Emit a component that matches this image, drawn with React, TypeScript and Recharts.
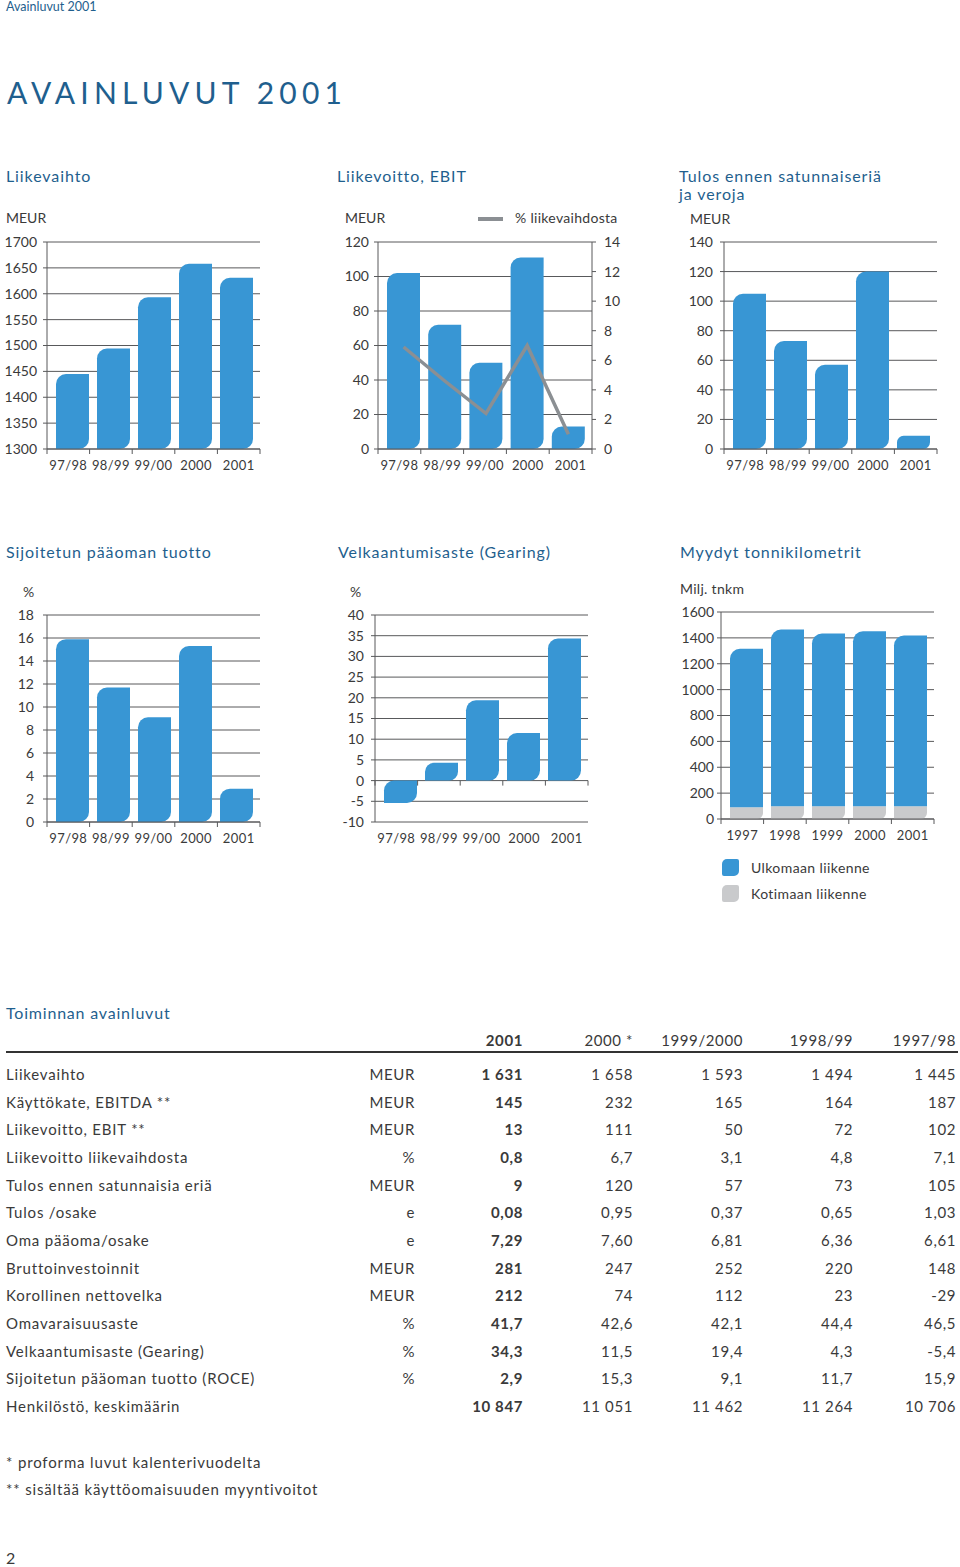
import React from 'react';
import { BarChart, Bar, XAxis, YAxis, CartesianGrid, Line, ComposedChart } from 'recharts';

// ---------- data ----------
const periods = ['97/98', '98/99', '99/00', '2000', '2001'];
const years = ['1997', '1998', '1999', '2000', '2001'];

const liikevaihto = [1445, 1494, 1593, 1658, 1631];
const liikevaihtoTicks = [1300, 1350, 1400, 1450, 1500, 1550, 1600, 1650, 1700];

const ebit = [102, 72, 50, 111, 13];
const ebitPct = [6.9, 4.6, 2.4, 7.0, 1.0];
const ebitTicks = [0, 20, 40, 60, 80, 100, 120];
const ebitPctTicks = [0, 2, 4, 6, 8, 10, 12, 14];

const tulos = [105, 73, 57, 120, 9];
const tulosTicks = [0, 20, 40, 60, 80, 100, 120, 140];

const roce = [15.9, 11.7, 9.1, 15.3, 2.9];
const roceTicks = [0, 2, 4, 6, 8, 10, 12, 14, 16, 18];

const gearing = [-5.4, 4.3, 19.4, 11.5, 34.3];
const gearingTicks = [-10, -5, 0, 5, 10, 15, 20, 25, 30, 35, 40];

const ulkomaan = [1225, 1367, 1335, 1353, 1320];
const kotimaan = [90, 98, 98, 98, 98];
const tonniTicks = [0, 200, 400, 600, 800, 1000, 1200, 1400, 1600];

const tableHeaders = ['2001', '2000 *', '1999/2000', '1998/99', '1997/98'];
const tableLabels = [
  'Liikevaihto',
  'Käyttökate, EBITDA **',
  'Liikevoitto, EBIT **',
  'Liikevoitto liikevaihdosta',
  'Tulos ennen satunnaisia eriä',
  'Tulos /osake',
  'Oma pääoma/osake',
  'Bruttoinvestoinnit',
  'Korollinen nettovelka',
  'Omavaraisuusaste',
  'Velkaantumisaste (Gearing)',
  'Sijoitetun pääoman tuotto (ROCE)',
  'Henkilöstö, keskimäärin',
];
const tableUnits = ['MEUR', 'MEUR', 'MEUR', '%', 'MEUR', 'e', 'e', 'MEUR', 'MEUR', '%', '%', '%', ''];
const col2001 = ['1 631', '145', '13', '0,8', '9', '0,08', '7,29', '281', '212', '41,7', '34,3', '2,9', '10 847'];
const col2000 = ['1 658', '232', '111', '6,7', '120', '0,95', '7,60', '247', '74', '42,6', '11,5', '15,3', '11 051'];
const col9900 = ['1 593', '165', '50', '3,1', '57', '0,37', '6,81', '252', '112', '42,1', '19,4', '9,1', '11 462'];
const col9899 = ['1 494', '164', '72', '4,8', '73', '0,65', '6,36', '220', '23', '44,4', '4,3', '11,7', '11 264'];
const col9798 = ['1 445', '187', '102', '7,1', '105', '1,03', '6,61', '148', '-29', '46,5', '-5,4', '15,9', '10 706'];

// ---------- style ----------
const FONT = "Lato, 'Open Sans', 'DejaVu Sans', sans-serif";
const BLUE = '#3896d4';
const GRAY_BAR = '#c9cacc';
const LINE_GRAY = '#8b8f93';
const GRID = '#58595b';
const TEXT = '#3a3a3a';
const TITLE = '#1f5f8e';
const COL_RIGHT = [523, 633, 743, 853, 956];
const PAD = { left: 5, right: 3 };

function leaf(tl: boolean, br: boolean, fill: string) {
  return (props: any) => {
    const { x, y, width, height } = props;
    if (![x, y, width, height].every((v: any) => Number.isFinite(v)) || width <= 0 || height === 0) return <g />;
    const top = Math.min(y, y + height);
    const h = Math.abs(height);
    const r = Math.min(10, h / 2, width / 2);
    const a = tl ? r : 0;
    const b = br ? r : 0;
    const d = `M${x},${top + h} L${x},${top + a} A${a},${a} 0 0 1 ${x + a},${top} L${x + width},${top} L${x + width},${top + h - b} A${b},${b} 0 0 1 ${x + width - b},${top + h} Z`;
    return <path d={d} fill={fill} />;
  };
}

// category-boundary tick marks + labels centred in full bands
function xTick(plotLeft: number, band: number, markUp: number) {
  return (props: any) => {
    const { y, payload, index } = props;
    const my = y - markUp;
    const cx = plotLeft + (index + 0.5) * band;
    const bx = plotLeft + (index + 1) * band;
    return (
      <g>
        {index === 0 && <line x1={plotLeft} x2={plotLeft} y1={my} y2={my + 5} stroke={GRID} />}
        <line x1={bx} x2={bx} y1={my} y2={my + 5} stroke={GRID} />
        <text x={cx} y={y + 20.5} textAnchor="middle" fontSize={13} fill={TEXT} letterSpacing={0.4} fontFamily={FONT}>
          {payload.value}
        </text>
      </g>
    );
  };
}

const T = ({ x, y, size = 14, color = TEXT, children, bold = false, ls = 0, right = false }: any) => {
  const style: React.CSSProperties = {
    position: 'absolute',
    top: y - size * 0.6,
    fontSize: size,
    lineHeight: `${size * 1.2}px`,
    color,
    whiteSpace: 'nowrap',
    fontWeight: bold ? 700 : 400,
    letterSpacing: ls,
  };
  if (right) {
    style.left = x - 300;
    style.width = 300;
    style.textAlign = 'right';
  } else {
    style.left = x;
  }
  return <div style={style}>{children}</div>;
};

const yTickStyle = { fontSize: 14, fill: TEXT, fontFamily: FONT };

function Box({ left, top, children }: any) {
  return <div style={{ position: 'absolute', left, top }}>{children}</div>;
}

export default function App() {
  const d1 = periods.map((p, i) => ({ name: p, v: liikevaihto[i] }));
  const d2 = periods.map((p, i) => ({ name: p, v: ebit[i], pct: ebitPct[i] }));
  const d3 = periods.map((p, i) => ({ name: p, v: tulos[i] }));
  const d4 = periods.map((p, i) => ({ name: p, v: roce[i] }));
  const d5 = periods.map((p, i) => ({ name: p, v: gearing[i] }));
  const d6 = years.map((p, i) => ({ name: p, ulko: ulkomaan[i], koti: kotimaan[i] }));

  const band = 213 / 5;
  const axisLine = { stroke: GRID };
  const tickLine = { stroke: GRID };

  return (
    <div style={{ position: 'absolute', left: 0, top: 0, width: 960, height: 1567, background: '#fff', fontFamily: FONT, color: TEXT }}>
      <T x={6} y={6} size={12.5} color={TITLE}>Avainluvut 2001</T>
      <T x={7} y={92} size={30} color={TITLE} ls={5.2}>AVAINLUVUT 2001</T>

      {/* Section titles row 1 */}
      <T x={6} y={176} size={16} color={TITLE} ls={0.9}>Liikevaihto</T>
      <T x={337} y={176} size={16} color={TITLE} ls={0.9}>Liikevoitto, EBIT</T>
      <T x={679} y={176} size={16} color={TITLE} ls={0.9}>Tulos ennen satunnaiseriä</T>
      <T x={679} y={194} size={16} color={TITLE} ls={0.9}>ja veroja</T>

      <T x={6} y={218} size={14}>MEUR</T>
      <T x={345} y={218} size={14}>MEUR</T>
      <div style={{ position: 'absolute', left: 478, top: 217, width: 25, height: 4, background: LINE_GRAY }} />
      <T x={515} y={218} size={14} ls={0.3}>% liikevaihdosta</T>
      <T x={690} y={219} size={14}>MEUR</T>

      {/* Chart 1: Liikevaihto */}
      <Box left={0} top={230}>
        <BarChart width={270} height={250} data={d1} margin={{ top: 12, right: 10, bottom: 5, left: 0 }}>
          <CartesianGrid vertical={false} stroke={GRID} />
          <XAxis dataKey="name" height={26} interval={0} padding={PAD} axisLine={axisLine} tickLine={false} tickSize={0} tickMargin={0} tick={xTick(47, band, 0)} />
          <YAxis width={47} domain={[1300, 1700]} ticks={liikevaihtoTicks} interval={0} allowDataOverflow axisLine={axisLine} tickLine={tickLine} tickSize={4} tickMargin={6} tick={yTickStyle} />
          <Bar dataKey="v" barSize={33} fill={BLUE} shape={leaf(true, true, BLUE)} isAnimationActive={false} />
        </BarChart>
      </Box>

      {/* Chart 2: EBIT */}
      <Box left={330} top={230}>
        <ComposedChart width={300} height={250} data={d2} margin={{ top: 12, right: 0, bottom: 5, left: 0 }}>
          <CartesianGrid vertical={false} stroke={GRID} yAxisId="left" />
          <XAxis dataKey="name" height={26} interval={0} padding={PAD} axisLine={axisLine} tickLine={false} tickSize={0} tickMargin={0} tick={xTick(48, 214 / 5, 0)} />
          <YAxis yAxisId="left" width={48} domain={[0, 120]} ticks={ebitTicks} interval={0} axisLine={axisLine} tickLine={tickLine} tickSize={4} tickMargin={5} tick={yTickStyle} />
          <YAxis yAxisId="right" orientation="right" width={38} domain={[0, 14]} ticks={ebitPctTicks} interval={0} axisLine={axisLine} tickLine={tickLine} tickSize={4} tickMargin={8} tick={yTickStyle} />
          <Bar yAxisId="left" dataKey="v" barSize={33} fill={BLUE} shape={leaf(true, true, BLUE)} isAnimationActive={false} />
          <Line yAxisId="right" dataKey="pct" stroke={LINE_GRAY} strokeWidth={3.5} dot={false} type="linear" isAnimationActive={false} />
        </ComposedChart>
      </Box>

      {/* Chart 3: Tulos */}
      <Box left={670} top={230}>
        <BarChart width={280} height={250} data={d3} margin={{ top: 12, right: 13, bottom: 5, left: 0 }}>
          <CartesianGrid vertical={false} stroke={GRID} />
          <XAxis dataKey="name" height={26} interval={0} padding={PAD} axisLine={axisLine} tickLine={false} tickSize={0} tickMargin={0} tick={xTick(54, band, 0)} />
          <YAxis width={54} domain={[0, 140]} ticks={tulosTicks} interval={0} axisLine={axisLine} tickLine={tickLine} tickSize={4} tickMargin={7} tick={yTickStyle} />
          <Bar dataKey="v" barSize={33} fill={BLUE} shape={leaf(true, true, BLUE)} isAnimationActive={false} />
        </BarChart>
      </Box>

      {/* Section titles row 2 */}
      <T x={6} y={552} size={16} color={TITLE} ls={0.9}>Sijoitetun pääoman tuotto</T>
      <T x={338} y={552} size={16} color={TITLE} ls={0.9}>Velkaantumisaste (Gearing)</T>
      <T x={680} y={552} size={16} color={TITLE} ls={0.9}>Myydyt tonnikilometrit</T>

      <T x={23} y={592} size={14}>%</T>
      <T x={350} y={592} size={14}>%</T>
      <T x={680} y={589} size={14} ls={0.3}>Milj. tnkm</T>

      {/* Chart 4: ROCE */}
      <Box left={0} top={600}>
        <BarChart width={270} height={250} data={d4} margin={{ top: 15, right: 10, bottom: 2, left: 0 }}>
          <CartesianGrid vertical={false} stroke={GRID} />
          <XAxis dataKey="name" height={26} interval={0} padding={PAD} axisLine={axisLine} tickLine={false} tickSize={0} tickMargin={0} tick={xTick(47, band, 0)} />
          <YAxis width={47} domain={[0, 18]} ticks={roceTicks} interval={0} axisLine={axisLine} tickLine={tickLine} tickSize={4} tickMargin={9} tick={yTickStyle} />
          <Bar dataKey="v" barSize={33} fill={BLUE} shape={leaf(true, true, BLUE)} isAnimationActive={false} />
        </BarChart>
      </Box>

      {/* Chart 5: Gearing */}
      <Box left={330} top={600}>
        <BarChart width={270} height={250} data={d5} margin={{ top: 15, right: 12, bottom: 2, left: 0 }}>
          <CartesianGrid vertical={false} stroke={GRID} />
          <XAxis dataKey="name" height={26} interval={0} padding={PAD} axisLine={false} tickLine={false} tickSize={0} tickMargin={0} tick={xTick(45, band, 207 * 10 / 50)} />
          <YAxis width={45} domain={[-10, 40]} ticks={gearingTicks} interval={0} axisLine={axisLine} tickLine={tickLine} tickSize={4} tickMargin={7} tick={yTickStyle} />
          <Bar dataKey="v" barSize={33} fill={BLUE} shape={leaf(true, true, BLUE)} isAnimationActive={false} />
        </BarChart>
      </Box>

      {/* Chart 6: Tonnikilometrit */}
      <Box left={670} top={600}>
        <BarChart width={280} height={250} data={d6} margin={{ top: 12, right: 16, bottom: 5, left: 0 }}>
          <CartesianGrid vertical={false} stroke={GRID} />
          <XAxis dataKey="name" height={26} interval={0} padding={PAD} axisLine={axisLine} tickLine={false} tickSize={0} tickMargin={0} tick={xTick(51, band, 0)} />
          <YAxis width={51} domain={[0, 1600]} ticks={tonniTicks} interval={0} axisLine={axisLine} tickLine={tickLine} tickSize={4} tickMargin={3} tick={yTickStyle} />
          <Bar dataKey="koti" stackId="a" barSize={33} fill={GRAY_BAR} shape={leaf(false, true, GRAY_BAR)} isAnimationActive={false} />
          <Bar dataKey="ulko" stackId="a" barSize={33} fill={BLUE} shape={leaf(true, false, BLUE)} isAnimationActive={false} />
        </BarChart>
      </Box>

      <div style={{ position: 'absolute', left: 722, top: 859, width: 17, height: 17, background: BLUE, borderRadius: '5px 2px 5px 2px' }} />
      <T x={751} y={868} size={14} ls={0.4}>Ulkomaan liikenne</T>
      <div style={{ position: 'absolute', left: 722, top: 885, width: 17, height: 17, background: GRAY_BAR, borderRadius: '5px 2px 5px 2px' }} />
      <T x={751} y={894} size={14} ls={0.4}>Kotimaan liikenne</T>

      {/* Table */}
      <T x={6} y={1013} size={16} color={TITLE} ls={0.8}>Toiminnan avainluvut</T>
      {tableHeaders.map((h, i) => (
        <T key={h} x={COL_RIGHT[i]} y={1040} size={15} ls={0.6} right bold={i === 0}>{h}</T>
      ))}
      <div style={{ position: 'absolute', left: 6, top: 1051, width: 952, height: 2, background: '#333' }} />
      {tableLabels.map((lab, r) => {
        const y = 1074 + r * 27.67;
        const cols = [col2001, col2000, col9900, col9899, col9798];
        return (
          <React.Fragment key={lab}>
            <T x={6} y={y} size={15} ls={0.8}>{lab}</T>
            <T x={415} y={y} size={15} ls={0.6} right>{tableUnits[r]}</T>
            {cols.map((c, i) => (
              <T key={i} x={COL_RIGHT[i]} y={y} size={15} ls={0.6} right bold={i === 0}>{c[r]}</T>
            ))}
          </React.Fragment>
        );
      })}

      <T x={6} y={1462} size={15} ls={0.85}>* proforma luvut kalenterivuodelta</T>
      <T x={6} y={1489} size={15} ls={0.85}>** sisältää käyttöomaisuuden myyntivoitot</T>
      <T x={6} y={1558} size={16}>2</T>
    </div>
  );
}
